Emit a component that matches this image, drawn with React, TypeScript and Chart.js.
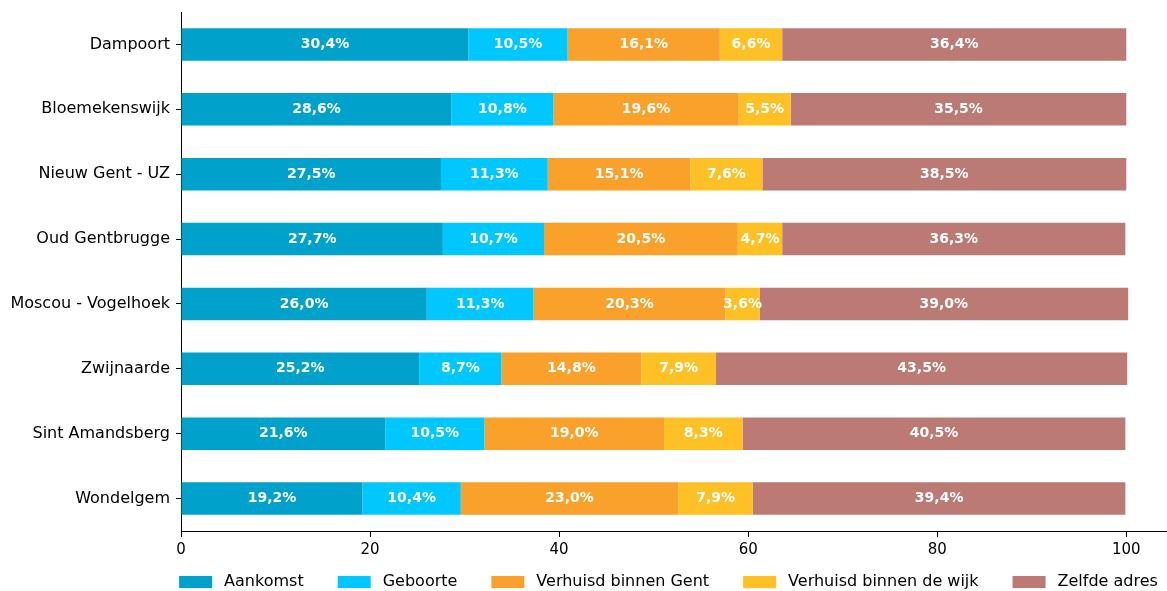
import React, { useEffect, useRef } from "react";
import { Chart, registerables } from "chart.js";

Chart.register(...registerables);

const categories = [
  "Dampoort",
  "Bloemekenswijk",
  "Nieuw Gent - UZ",
  "Oud Gentbrugge",
  "Moscou - Vogelhoek",
  "Zwijnaarde",
  "Sint Amandsberg",
  "Wondelgem",
];

const seriesNames = [
  "Aankomst",
  "Geboorte",
  "Verhuisd binnen Gent",
  "Verhuisd binnen de wijk",
  "Zelfde adres",
];

const aankomst = [30.4, 28.6, 27.5, 27.7, 26.0, 25.2, 21.6, 19.2];
const geboorte = [10.5, 10.8, 11.3, 10.7, 11.3, 8.7, 10.5, 10.4];
const verhuisdGent = [16.1, 19.6, 15.1, 20.5, 20.3, 14.8, 19.0, 23.0];
const verhuisdWijk = [6.6, 5.5, 7.6, 4.7, 3.6, 7.9, 8.3, 7.9];
const zelfdeAdres = [36.4, 35.5, 38.5, 36.3, 39.0, 43.5, 40.5, 39.4];

const xTicks = [0, 20, 40, 60, 80, 100];

const colors = ["#00a2cc", "#00c8ff", "#f9a12a", "#fec125", "#bb7a74"];

const FONT = "'DejaVu Sans', sans-serif";

const labelPlugin = {
  id: "segLabels",
  afterDatasetsDraw(chart: any) {
    const ctx = chart.ctx;
    ctx.save();
    ctx.font = `bold 14px ${FONT}`;
    ctx.fillStyle = "#ffffff";
    ctx.textAlign = "center";
    ctx.textBaseline = "middle";
    chart.data.datasets.forEach((ds: any, di: number) => {
      const meta = chart.getDatasetMeta(di);
      meta.data.forEach((bar: any, i: number) => {
        const v = ds.data[i];
        const p = bar.getProps(["x", "y", "base"], true);
        const cx = (p.x + p.base) / 2;
        ctx.fillText(v.toFixed(1).replace(".", ",") + "%", cx, p.y);
      });
    });
    ctx.restore();
  },
};

const legendPlugin = {
  id: "customLegend",
  afterDraw(chart: any) {
    const ctx = chart.ctx;
    const area = chart.chartArea;
    ctx.save();
    ctx.font = `16px ${FONT}`;
    ctx.textBaseline = "middle";
    ctx.textAlign = "left";
    const boxW = 33;
    const boxH = 12;
    const gapText = 12;
    const gapItem = 34;
    const widths = chart.data.datasets.map((ds: any) => ctx.measureText(ds.label).width);
    const total =
      widths.reduce((a: number, w: number) => a + boxW + gapText + w, 0) +
      gapItem * (widths.length - 1);
    let x = (area.left + area.right) / 2 - 5 - total / 2;
    const cy = 582;
    chart.data.datasets.forEach((ds: any, i: number) => {
      ctx.fillStyle = ds.backgroundColor;
      ctx.fillRect(x, cy - boxH / 2, boxW, boxH);
      ctx.fillStyle = "#000";
      ctx.fillText(ds.label, x + boxW + gapText, cy);
      x += boxW + gapText + widths[i] + gapItem;
    });
    ctx.restore();
  },
};

export default function App() {
  const ref = useRef<HTMLCanvasElement | null>(null);
  useEffect(() => {
    document.body.style.margin = "0";
    const seriesValues = [aankomst, geboorte, verhuisdGent, verhuisdWijk, zelfdeAdres];
    const chart = new Chart(ref.current as HTMLCanvasElement, {
      type: "bar",
      data: {
        labels: categories,
        datasets: seriesNames.map((name, k) => ({
          label: name,
          data: seriesValues[k],
          backgroundColor: colors[k],
          borderWidth: 0,
          barPercentage: 0.5,
          categoryPercentage: 1,
        })),
      },
      options: {
        indexAxis: "y",
        animation: false,
        responsive: false,
        layout: { padding: { top: 12, right: 1, left: 0, bottom: 30 } },
        scales: {
          x: {
            stacked: true,
            min: 0,
            max: 104.2,
            afterBuildTicks(scale: any) {
              scale.ticks = xTicks.map((v) => ({ value: v }));
            },
            afterFit(scale: any) {
              scale.height = 30;
              scale.paddingLeft = 0;
              scale.paddingRight = 0;
            },
            grid: {
              drawOnChartArea: false,
              drawTicks: true,
              tickLength: 6,
              tickColor: "#000",
              tickWidth: 1,
            },
            border: { display: true, color: "#000", width: 1 },
            ticks: {
              color: "#000",
              font: { family: FONT, size: 15 },
              padding: 4,
              maxRotation: 0,
            },
          },
          y: {
            stacked: true,
            afterFit(scale: any) {
              scale.width = 181;
              scale.paddingTop = 0;
              scale.paddingBottom = 0;
            },
            grid: {
              offset: false,
              drawOnChartArea: false,
              drawTicks: true,
              tickLength: 5,
              tickColor: "#000",
              tickWidth: 1,
            },
            border: { display: true, color: "#000", width: 1 },
            ticks: {
              color: "#000",
              font: { family: FONT, size: 16 },
              padding: 6,
            },
          },
        },
        plugins: {
          legend: { display: false },
          tooltip: { enabled: false },
        },
      },
      plugins: [labelPlugin, legendPlugin],
    } as any);
    return () => chart.destroy();
  }, []);
  return (
    <div style={{ position: "absolute", left: 0, top: 0, width: 1167, height: 591 }}>
      <canvas ref={ref} width={1167} height={591} />
    </div>
  );
}
